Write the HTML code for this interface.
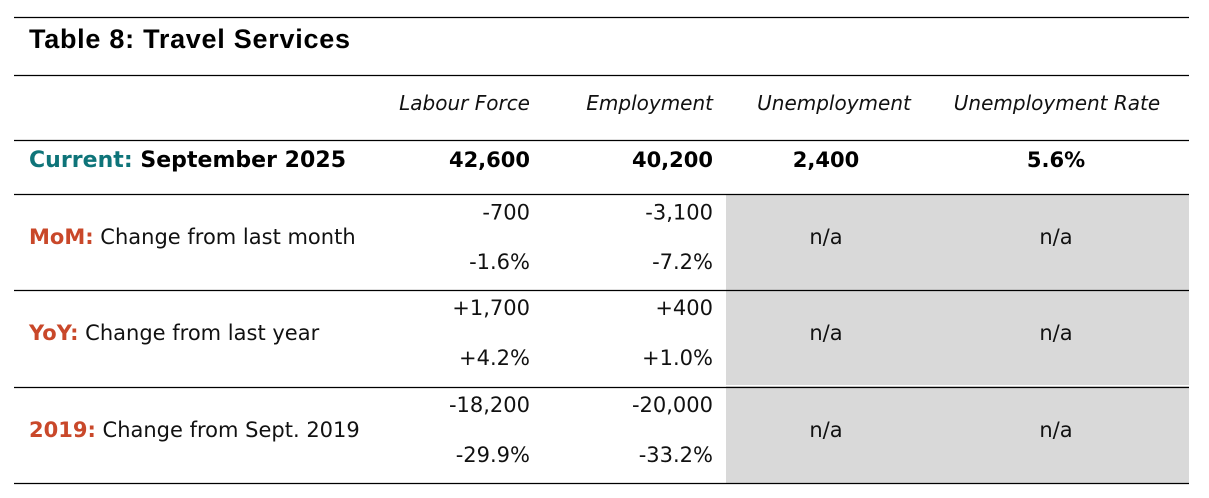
<!DOCTYPE html>
<html>
<head>
<meta charset="utf-8">
<style>
  html, body { margin: 0; padding: 0; background: #ffffff; }
  body { width: 1209px; height: 498px; overflow: hidden; }
  svg { display: block; }
  .hdr { font-family: "DejaVu Sans", "Liberation Sans", sans-serif; font-style: italic; font-size: 20px; fill: #111; }
  .num { font-family: "DejaVu Sans", "Liberation Sans", sans-serif; font-size: 21px; fill: #111; }
  .bnum { font-family: "DejaVu Sans", "Liberation Sans", sans-serif; font-weight: bold; font-size: 21px; fill: #000; }
  .lbl { font-family: "DejaVu Sans", "Liberation Sans", sans-serif; font-size: 21px; fill: #111; }
  .pre { font-weight: bold; fill: #c9482a; }
</style>
</head>
<body>
<svg width="1209" height="498" viewBox="0 0 1209 498" xmlns="http://www.w3.org/2000/svg">
  <rect x="0" y="0" width="1209" height="498" fill="#ffffff"/>
  <!-- grey n/a block -->
  <rect x="726" y="194" width="463" height="289" fill="#d9d9d9"/>
  <rect x="726" y="385" width="463" height="1" fill="#ffffff"/>

  <!-- horizontal rules -->
  <g stroke="#000" stroke-width="1.3">
    <line x1="14" y1="17.5" x2="1189" y2="17.5"/>
    <line x1="14" y1="75.5" x2="1189" y2="75.5"/>
    <line x1="14" y1="140.5" x2="1189" y2="140.5"/>
    <line x1="14" y1="194.5" x2="1189" y2="194.5"/>
    <line x1="14" y1="290.5" x2="1189" y2="290.5"/>
    <line x1="14" y1="387.5" x2="1189" y2="387.5"/>
    <line x1="14" y1="483.5" x2="1189" y2="483.5"/>
  </g>

  <!-- title -->
  <text x="29" y="48" font-family="Liberation Sans, sans-serif" font-weight="bold" font-size="27" fill="#000" textLength="321" lengthAdjust="spacing">Table 8: Travel Services</text>

  <!-- header -->
  <text class="hdr" x="530" y="110" text-anchor="end">Labour Force</text>
  <text class="hdr" x="713" y="110" text-anchor="end">Employment</text>
  <text class="hdr" x="834" y="110" text-anchor="middle">Unemployment</text>
  <text class="hdr" x="1057" y="110" text-anchor="middle">Unemployment Rate</text>

  <!-- current row -->
  <text x="29" y="167" font-family="DejaVu Sans, Liberation Sans, sans-serif" font-weight="bold" font-size="22" fill="#000" textLength="317" lengthAdjust="spacing"><tspan fill="#0e7479">Current:</tspan> September 2025</text>
  <text class="bnum" x="530" y="167" text-anchor="end">42,600</text>
  <text class="bnum" x="713" y="167" text-anchor="end">40,200</text>
  <text class="bnum" x="826" y="167" text-anchor="middle">2,400</text>
  <text class="bnum" x="1056" y="167" text-anchor="middle">5.6%</text>

  <!-- MoM row -->
  <text class="lbl" x="29" y="244"><tspan class="pre">MoM:</tspan> Change from last month</text>
  <text class="num" x="530" y="219.5" text-anchor="end">-700</text>
  <text class="num" x="713" y="219.5" text-anchor="end">-3,100</text>
  <text class="num" x="530" y="269" text-anchor="end">-1.6%</text>
  <text class="num" x="713" y="269" text-anchor="end">-7.2%</text>
  <text class="num" x="826" y="244" text-anchor="middle">n/a</text>
  <text class="num" x="1056" y="244" text-anchor="middle">n/a</text>

  <!-- YoY row -->
  <text class="lbl" x="29" y="340"><tspan class="pre">YoY:</tspan> Change from last year</text>
  <text class="num" x="530" y="315" text-anchor="end">+1,700</text>
  <text class="num" x="713" y="315" text-anchor="end">+400</text>
  <text class="num" x="530" y="365" text-anchor="end">+4.2%</text>
  <text class="num" x="713" y="365" text-anchor="end">+1.0%</text>
  <text class="num" x="826" y="340" text-anchor="middle">n/a</text>
  <text class="num" x="1056" y="340" text-anchor="middle">n/a</text>

  <!-- 2019 row -->
  <text class="lbl" x="29" y="437"><tspan class="pre">2019:</tspan> Change from Sept. 2019</text>
  <text class="num" x="530" y="412" text-anchor="end">-18,200</text>
  <text class="num" x="713" y="412" text-anchor="end">-20,000</text>
  <text class="num" x="530" y="462" text-anchor="end">-29.9%</text>
  <text class="num" x="713" y="462" text-anchor="end">-33.2%</text>
  <text class="num" x="826" y="437" text-anchor="middle">n/a</text>
  <text class="num" x="1056" y="437" text-anchor="middle">n/a</text>
</svg>
</body>
</html>
